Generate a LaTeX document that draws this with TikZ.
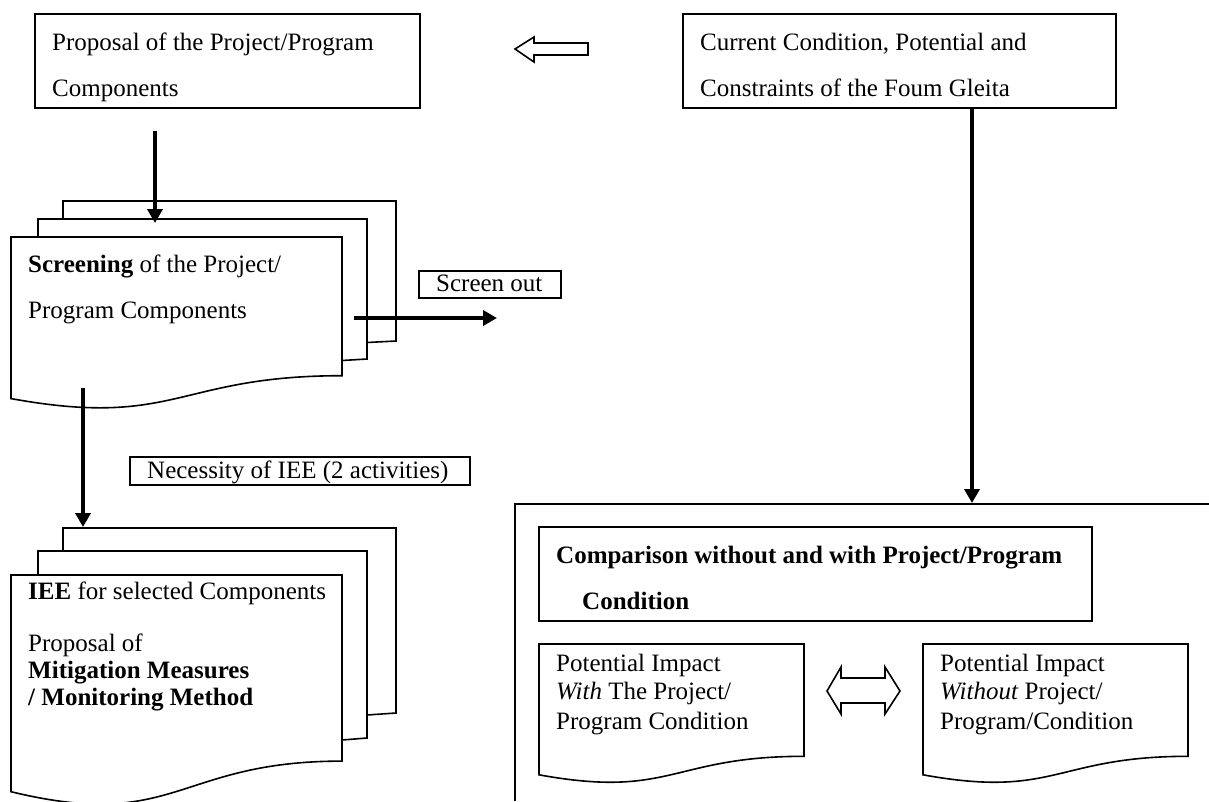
\documentclass[tikz,border=0pt]{standalone}
\usepackage{fontspec}
\setmainfont{Liberation Serif}
\usetikzlibrary{arrows.meta}
\begin{document}
\begin{tikzpicture}[x=1pt,y=-1pt,
  box/.style={draw, line width=1.6pt, inner sep=0pt, outer sep=0pt},
  sheet/.style={draw, line width=1.6pt, fill=white, line join=miter},
  txt/.style={anchor=base west, inner sep=0pt, font=\fontsize{25}{29}\selectfont},
  flow/.style={line width=4.2pt, -{Triangle[length=14pt,width=15pt]}},
  hollow/.style={draw, line width=1.6pt, fill=white, line join=miter}]
\useasboundingbox (0,0) rectangle (1209,801);
\clip (0,0) rectangle (1209,801);
\fill[white] (0,0) rectangle (1209,801);

% --- top boxes
\node[box, minimum width=385pt, minimum height=94pt] (prop) at (227.5,61) {};
\node[txt] (propA) at (52,50) {Proposal of the Project/Program};
\node[txt] (propB) at (52,96) {Components};

\node[box, minimum width=433pt, minimum height=94pt] (curr) at (899.5,61) {};
\node[txt] (currA) at (700,50) {Current Condition, Potential and};
\node[txt] (currB) at (700,96) {Constraints of the Foum Gleita};

% hollow left arrow
\draw[hollow] (515,49) -- (534,37) -- (534,43) -- (588,43) -- (588,55) -- (534,55) -- (534,62) -- cycle;

% --- screening stack
\draw[sheet] (63,219) -- (63,201) -- (396,201) -- (396,341) -- (367,342.5);
\draw[sheet] (38,237) -- (38,219) -- (367,219) -- (367,359) -- (342,360.5);
\draw[sheet] (11,237) -- (342,237) -- (342,375.7) .. controls (176.5,375.7) and (176.5,428.6) .. (11,398.6) -- cycle;
\node[txt] (scrA) at (28,272) {\textbf{Screening} of the Project/};
\node[txt] (scrB) at (28,318) {Program Components};

\coordinate (scrIn) at (155,131);
\coordinate (scrTop) at (155,223);
\draw[flow] (scrIn) -- (scrTop);

% screen out
\node[box, minimum width=142pt, minimum height=27pt] (scrout) at (490,284.5) {};
\node[txt] (scroutT) at (436,291) {Screen out};
\coordinate (soStart) at (354,318);
\coordinate (soEnd) at (497,318);
\draw[flow] (soStart) -- (soEnd);

% --- IEE stack
\draw[sheet] (63,551) -- (63,528) -- (396,528) -- (396,713) -- (367,715);
\draw[sheet] (38,575) -- (38,551) -- (367,551) -- (367,738) -- (342,740);
\draw[sheet] (11,575) -- (342,575) -- (342,761.1) .. controls (176.5,761.1) and (176.5,831.9) .. (11,791.7) -- cycle;
\node[txt] (ieeA) at (28,599) {\textbf{IEE} for selected Components};
\node[txt] (ieeB) at (28,651) {Proposal of};
\node[txt] (ieeC) at (28,678) {\textbf{Mitigation Measures}};
\node[txt] (ieeD) at (28,705) {\textbf{/ Monitoring Method}};

\coordinate (scrOut) at (83,388);
\coordinate (ieeTop) at (83,527);
\draw[flow] (scrOut) -- (ieeTop);

% necessity label
\node[box, minimum width=340pt, minimum height=28pt] (need) at (300,471) {};
\node[txt] (needT) at (147,478) {Necessity of IEE (2 activities)};

% --- container
\draw[line width=1.6pt] (515,801) -- (515,504) -- (1209,504);
\coordinate (contTop) at (972,503);
\draw[flow] (curr.south -| contTop) -- (contTop);

\node[box, minimum width=553pt, minimum height=94pt] (comp) at (815.5,574) {};
\node[txt] (compA) at (556,563) {\textbf{Comparison without and with Project/Program}};
\node[txt] (compB) at (582,609) {\textbf{Condition}};

% potential impact docs
\draw[sheet] (539,644) -- (804,644) -- (804,756.3) .. controls (671.5,756.3) and (671.5,799) .. (539,774.8) -- cycle;
\node[txt] (withA) at (556,671) {Potential Impact};
\node[txt] (withB) at (556,699) {\textit{With} The Project/};
\node[txt] (withC) at (556,729) {Program Condition};

\draw[sheet] (923,644) -- (1188,644) -- (1188,756.3) .. controls (1055.5,756.3) and (1055.5,799) .. (923,774.8) -- cycle;
\node[txt] (woA) at (940,671) {Potential Impact};
\node[txt] (woB) at (940,699) {\textit{Without} Project/};
\node[txt] (woC) at (940,729) {Program/Condition};

% double hollow arrow
\draw[hollow] (827,691) -- (841,667) -- (841,678) -- (885,678) -- (885,667) -- (900,691) -- (885,714) -- (885,703) -- (841,703) -- (841,714) -- cycle;
\end{tikzpicture}
\end{document}
